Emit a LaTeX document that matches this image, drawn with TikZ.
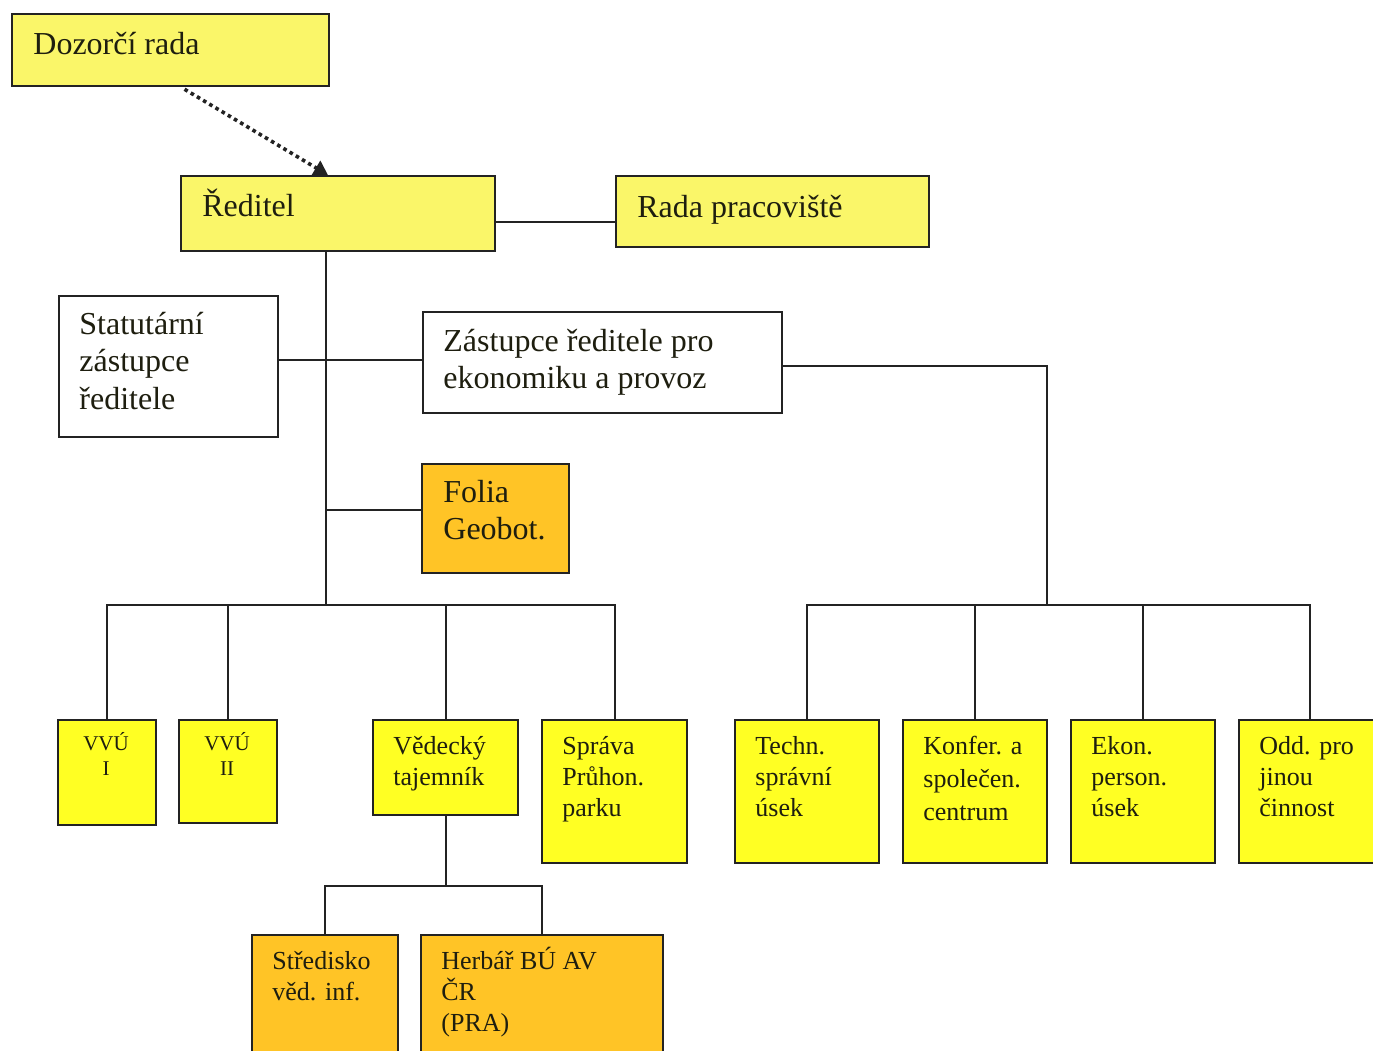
\documentclass[tikz,border=0pt]{standalone}
\usepackage{fontspec}
\setmainfont{Liberation Serif}
\usetikzlibrary{arrows.meta,calc}
\definecolor{ytop}{RGB}{250,246,105}
\definecolor{ylow}{RGB}{255,255,35}
\definecolor{orng}{RGB}{255,196,38}
\definecolor{linec}{RGB}{35,35,35}
\definecolor{txtc}{RGB}{30,30,15}
\tikzset{
 box/.style={draw=linec, line width=1.1pt, inner sep=0pt, anchor=north west},
 conn/.style={draw=linec, line width=1pt},
 dotarrow/.style={draw=linec, line width=1.8pt, dash pattern=on 1.8pt off 1.8pt, shorten <=2pt, -{Triangle[length=7pt,width=8pt]}},
 big/.style={inner sep=0pt, anchor=base west, text=txtc, font=\fontsize{16}{18.75}\selectfont},
 small/.style={inner sep=0pt, anchor=base west, text=txtc, font=\fontsize{13}{15.5}\selectfont},
 tiny/.style={inner sep=0pt, anchor=base, text=txtc, font=\fontsize{10.5}{12.5}\selectfont},
}
\newcommand\mybox[6]{\node[box, fill=#6, minimum width={(#4-#2)*0.5pt}, minimum height={(#5-#3)*0.5pt}] (#1) at (#2,#3) {};}
\newcommand\mylines[1]{\begin{tabular}[t]{@{}l@{}}#1\end{tabular}}
\newcommand\mycenter[1]{\begin{tabular}[t]{@{}c@{}}#1\end{tabular}}
\begin{document}
\begin{tikzpicture}[x=0.5pt,y=-0.5pt]
\useasboundingbox (0,0) rectangle (1373,1051);
\fill[white] (0,0) rectangle (1373,1051);
% boxes
\mybox{dozor}{11}{13}{328}{85}{ytop}
\mybox{red}{180}{175}{494}{250}{ytop}
\mybox{rada}{615}{175}{928}{246}{ytop}
\mybox{stat}{58}{295}{277}{436}{white}
\mybox{zast}{422}{311}{781}{412}{white}
\mybox{folia}{421}{463}{568}{572}{orng}
\mybox{vvua}{57}{719}{155}{824}{ylow}
\mybox{vvub}{178}{719}{276}{822}{ylow}
\mybox{ved}{372}{719}{517}{814}{ylow}
\mybox{sprava}{541}{719}{686}{862}{ylow}
\mybox{techn}{734}{719}{878}{862}{ylow}
\mybox{konf}{902}{719}{1046}{862}{ylow}
\mybox{ekon}{1070}{719}{1214}{862}{ylow}
\mybox{odd}{1238}{719}{1380}{862}{ylow}
\mybox{stred}{251}{934}{397}{1065}{orng}
\mybox{herb}{420}{934}{662}{1065}{orng}
% texts
\node[big] (dozor-t) at (33,54) {Dozorčí rada};
\node[big] (red-t) at (202,216) {Ředitel};
\node[big] (rada-t) at (637,217) {Rada pracoviště};
\node[big] (stat-t) at (79,334) {\mylines{Statutární\\zástupce\\ředitele}};
\node[big] (zast-t) at (443,351) {\mylines{Zástupce ředitele pro\\ekonomiku a provoz}};
\node[big] (folia-t) at (443,502) {\mylines{Folia\\Geobot.}};
\node[tiny] (vvua-t) at (106,750) {\mycenter{VVÚ\\I}};
\node[tiny] (vvub-t) at (227,750) {\mycenter{VVÚ\\II}};
\node[small] (ved-t) at (393,754) {\mylines{Vědecký\\tajemník}};
\node[small] (sprava-t) at (562,754) {\mylines{Správa\\Průhon.\\parku}};
\node[small] (techn-t) at (755,754) {\mylines{Techn.\\správní\\úsek}};
\node[small] (konf-t) at (923,754) {\mylines{Konfer. a\\[1pt]společen.\\[1pt]centrum}};
\node[small] (ekon-t) at (1091,754) {\mylines{Ekon.\\person.\\úsek}};
\node[small] (odd-t) at (1259,754) {\mylines{Odd. pro\\jinou\\činnost}};
\node[small] (stred-t) at (272,969) {\mylines{Středisko\\věd. inf.}};
\node[small] (herb-t) at (441,969) {\mylines{Herbář BÚ AV\\ČR\\(PRA)}};
% connectors
\draw[dotarrow] ($(dozor.south west)!0.533!(dozor.south east)$) -- ($(red.north west)!0.468!(red.north east)$);
\draw[conn] (red.east |- 0,222) -- (rada.west |- 0,222);
\coordinate (vx) at (326,605);
\draw[conn] (red.south -| vx) -- (vx);
\draw[conn] (stat.east |- 0,360) -- (zast.west |- 0,360);
\draw[conn] (vx |- 0,510) -- (folia.west |- 0,510);
\draw[conn] (vvua.north) |- (sprava.north |- vx) -- (sprava.north);
\draw[conn] (vvub.north) -- (vvub.north |- vx);
\draw[conn] (ved.north) -- (ved.north |- vx);
\coordinate (rx) at (1047,605);
\draw[conn] (zast.east |- 0,366) -| (rx);
\draw[conn] (techn.north) |- (odd.north |- rx) -- (odd.north);
\draw[conn] (konf.north) -- (konf.north |- rx);
\draw[conn] (ekon.north) -- (ekon.north |- rx);
\coordinate (vy) at (445,886);
\draw[conn] (ved.south) -- (ved.south |- vy);
\draw[conn] (stred.north) |- (herb.north |- vy) -- (herb.north);
\end{tikzpicture}
\end{document}
